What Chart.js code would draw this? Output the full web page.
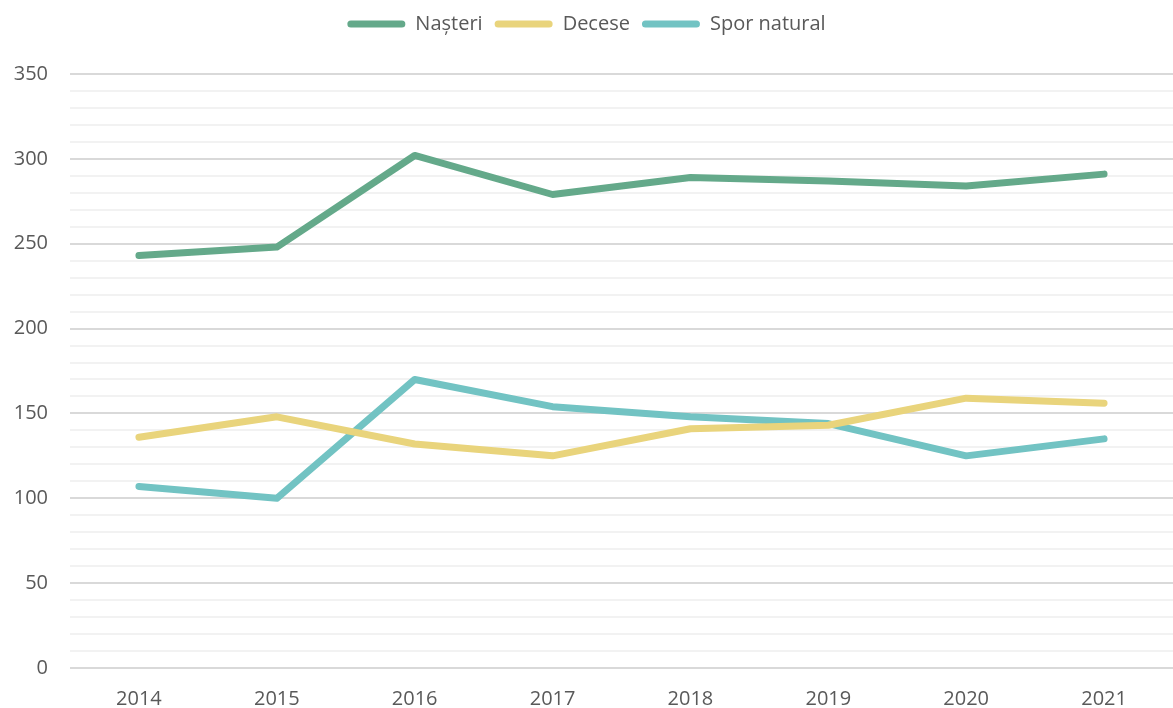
<!DOCTYPE html>
<html>
<head>
<meta charset="utf-8">
<script src="https://cdn.jsdelivr.net/npm/chart.js@4"></script>
<style>
  html, body { margin: 0; padding: 0; background: #fff; }
  #wrap { width: 1173px; height: 708px; }
</style>
</head>
<body>
<div id="wrap"><canvas id="chart"></canvas></div>
<script>
// --- DATA ---
const years = ['2014', '2015', '2016', '2017', '2018', '2019', '2020', '2021'];
const nasteri = [243, 248, 302, 279, 289, 287, 284, 291];
const decese = [136, 148, 132, 125, 141, 143, 159, 156];
const spor = [107, 100, 170, 154, 148, 144, 125, 135];

const FONT = "'Open Sans', sans-serif";
const TEXT = '#595959';

function series(label, data, color) {
    return {
        label: label, data: data,
        borderColor: color, backgroundColor: color,
        borderWidth: 7, borderCapStyle: 'round', borderJoinStyle: 'round',
        pointRadius: 0, tension: 0
    };
}

// extra room under the legend
const legendGap = {
    id: 'legendGap',
    beforeInit(chart) {
        const fit = chart.legend.fit;
        chart.legend.fit = function () {
            fit.bind(chart.legend)();
            this.height += 30;
        };
    }
};

new Chart(document.getElementById('chart'), {
    type: 'line',
    data: {
        labels: years,
        datasets: [
            series('Nașteri', nasteri, '#64a98a'),
            series('Decese', decese, '#e9d47c'),
            series('Spor natural', spor, '#72c3c3')
        ]
    },
    plugins: [legendGap],
    options: {
        responsive: true, maintainAspectRatio: false, animation: false,
        layout: { padding: { top: 2, right: 0, bottom: 0, left: 0 } },
        plugins: {
            tooltip: { enabled: false },
            legend: {
                position: 'top',
                labels: {
                    color: TEXT, font: { family: FONT, size: 20 },
                    boxWidth: 58, boxHeight: 7, padding: 12,
                    useBorderRadius: true, borderRadius: 3.5,
                    generateLabels: chart => chart.data.datasets.map((ds, i) => ({
                        text: ds.label, fillStyle: ds.borderColor, strokeStyle: ds.borderColor,
                        lineWidth: 0, fontColor: TEXT, datasetIndex: i, borderRadius: 3.5
                    }))
                }
            }
        },
        scales: {
            x: {
                offset: true,
                grid: { display: false },
                border: { display: false },
                ticks: { color: TEXT, font: { family: FONT, size: 20 }, padding: 11 },
                afterFit: scale => { scale.height = 40; }
            },
            y: {
                min: 0, max: 350,
                border: { display: false },
                grid: {
                    color: ctx => ctx.tick && ctx.tick.value % 50 === 0 ? '#d9d9d9' : '#f2f2f2',
                    lineWidth: 2, drawTicks: false
                },
                ticks: {
                    stepSize: 10, autoSkip: false,
                    color: TEXT, font: { family: FONT, size: 20 }, padding: 22,
                    callback: v => v % 50 === 0 ? v : ''
                },
                afterFit: scale => { scale.width = 70; }
            }
        }
    }
});
</script>
</body>
</html>
